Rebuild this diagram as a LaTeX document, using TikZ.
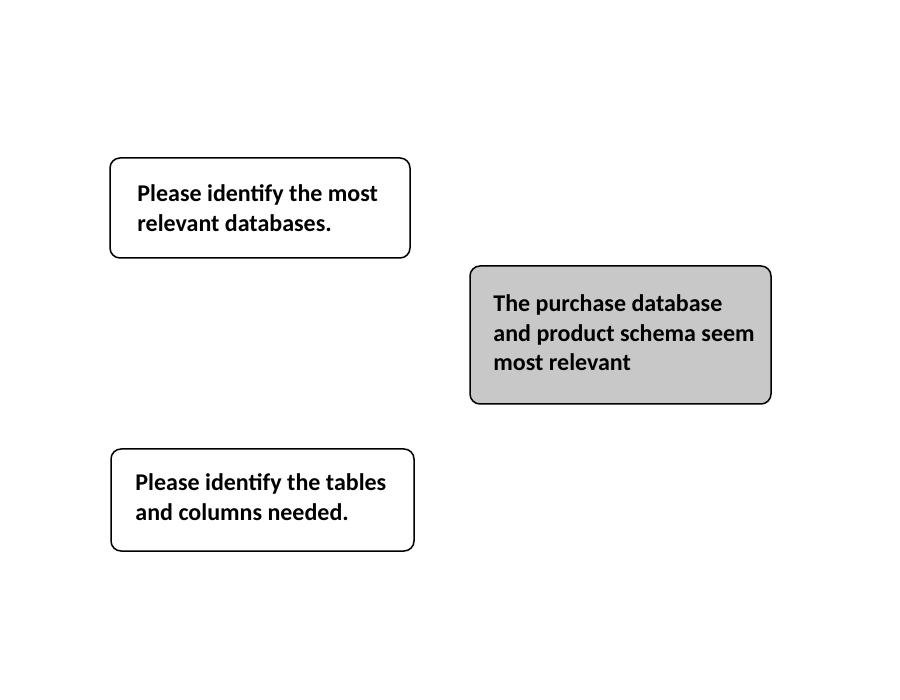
\documentclass[tikz,border=0pt]{standalone}
\usepackage{fontspec}
\setmainfont{Carlito}
\begin{document}
\begin{tikzpicture}[x=1pt,y=-1pt,
  box/.style={draw=black,line width=1.5pt,rounded corners=10pt,inner sep=0pt},
  txt/.style={anchor=west,align=left,inner sep=0pt,font=\fontsize{24}{29.5}\selectfont\bfseries}]
\useasboundingbox (0,0) rectangle (900,700);
\fill[white] (0,0) rectangle (900,700);
\node[box,fill=white,minimum width=300pt,minimum height=100pt] (b1) at (260,208) {};
\node[box,fill={rgb,255:red,200;green,200;blue,200},minimum width=301pt,minimum height=138pt] (b2) at (620.5,335) {};
\node[box,fill=white,minimum width=303pt,minimum height=102pt] (b3) at (262.5,500) {};
\node[txt] (t1) at ([xshift=28pt]b1.west) {Please identify the most\\relevant databases.};
\node[txt] (t2) at ([xshift=24pt,yshift=2pt]b2.west) {The purchase database\\and product schema seem\\most relevant};
\node[txt] (t3) at ([xshift=25pt,yshift=3pt]b3.west) {Please identify the tables\\and columns needed.};
\end{tikzpicture}
\end{document}
